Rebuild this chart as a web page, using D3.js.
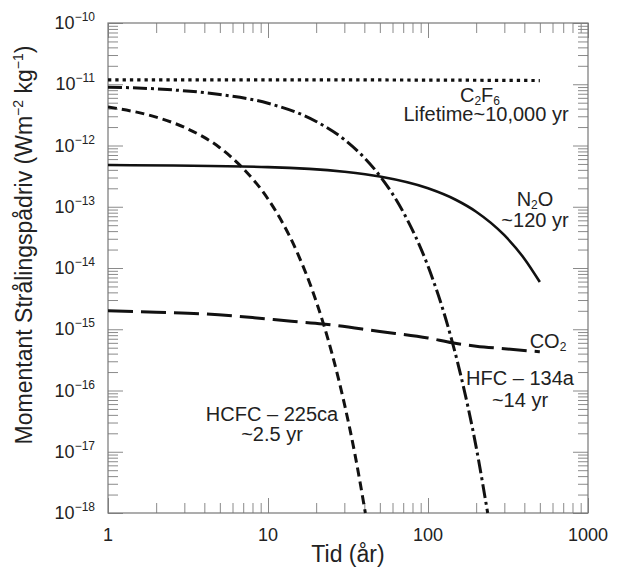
<!DOCTYPE html>
<html>
<head>
<meta charset="utf-8">
<script src="https://cdn.jsdelivr.net/npm/d3@7"></script>
<style>
  body { margin: 0; background: #fff; }
  text { font-family: "Liberation Sans", Arial, Helvetica, sans-serif; fill: #222; }
</style>
</head>
<body>
<svg id="chart" width="618" height="568"></svg>
<script>
// values: years, and forcing in W m-2 kg-1
var xTickLabels = [1, 10, 100, 1000];
var yExponents = [-10, -11, -12, -13, -14, -15, -16, -17, -18];

var c2f6Years = [1, 10, 100, 500];
var c2f6Values = [1.18e-11, 1.18e-11, 1.17e-11, 1.15e-11];

var hfcYears = [1, 2, 5, 10, 20, 30, 40, 50, 70, 100, 130, 160, 200, 236];
var hfcValues = [8.97e-12, 8.4e-12, 6.8e-12, 4.9e-12, 2.47e-12, 1.25e-12, 6.3e-13, 3.2e-13, 8.2e-14, 1.07e-14, 1.39e-15, 1.8e-16, 1.19e-17, 1.0e-18];

var hcfcYears = [1, 2, 3, 5, 7, 10, 15, 20, 25, 30, 35, 40.6];
var hcfcValues = [4.27e-12, 2.9e-12, 1.98e-12, 9.2e-13, 4.2e-13, 1.34e-13, 1.96e-14, 2.86e-15, 4.2e-16, 6.1e-17, 8.9e-18, 1.0e-18];

var n2oYears = [1, 10, 30, 50, 100, 150, 200, 300, 400, 500];
var n2oValues = [4.8e-13, 4.44e-13, 3.72e-13, 3.11e-13, 2.0e-13, 1.29e-13, 8.3e-14, 3.43e-14, 1.42e-14, 5.9e-15];

var co2Years = [1, 2, 4, 8, 14, 22, 50, 100, 142, 200, 300, 500];
var co2Values = [2.0e-15, 1.9e-15, 1.78e-15, 1.55e-15, 1.35e-15, 1.22e-15, 9.2e-16, 7.2e-16, 6.0e-16, 5.3e-16, 4.8e-16, 4.3e-16];

var svg = d3.select("#chart");
var pl = 108, pr = 588, pt = 23, pb = 513;

var x = d3.scaleLog().domain([1, 1000]).range([pl, pr]);
var y = d3.scaleLog().domain([1e-18, 1e-10]).range([pb, pt]);

function zip(a, b) { return a.map(function(v, i) { return [v, b[i]]; }); }

var series = [
  { pts: zip(c2f6Years, c2f6Values), dash: "3.3 4", w: 3.2 },
  { pts: zip(hfcYears, hfcValues), dash: "14 4 3 4", w: 3 },
  { pts: zip(hcfcYears, hcfcValues), dash: "9 5", w: 3 },
  { pts: zip(n2oYears, n2oValues), dash: null, w: 2.6 },
  { pts: zip(co2Years, co2Values), dash: "25 8", w: 3 }
];

// ticks, all pointing inward
var tickColor = "#8a8a8a";
var xMinor = x.ticks().filter(function(d) { return xTickLabels.indexOf(d) < 0; });
var yAll = y.ticks();
var yMajor = yExponents.map(function(e) { return Math.pow(10, e); });
var yMinor = yAll.filter(function(d) {
  return !yMajor.some(function(m) { return Math.abs(d / m - 1) < 1e-6; });
});

function addAxis(gen, tx, ty, vals, size) {
  var g = svg.append("g")
    .attr("transform", "translate(" + tx + "," + ty + ")")
    .call(gen.tickValues(vals).tickSize(-size).tickFormat(""));
  g.select(".domain").remove();
  g.selectAll("line").attr("stroke", tickColor).attr("stroke-width", 1);
}
addAxis(d3.axisBottom(x), 0, pb, xMinor, 10);
addAxis(d3.axisBottom(x), 0, pb, xTickLabels, 15);
addAxis(d3.axisTop(x), 0, pt, xMinor, 10);
addAxis(d3.axisTop(x), 0, pt, xTickLabels, 15);
addAxis(d3.axisLeft(y), pl, 0, yMinor, 10);
addAxis(d3.axisLeft(y), pl, 0, yMajor, 15);
addAxis(d3.axisRight(y), pr, 0, yMinor, 10);
addAxis(d3.axisRight(y), pr, 0, yMajor, 15);

svg.append("rect")
  .attr("x", pl).attr("y", pt)
  .attr("width", pr - pl).attr("height", pb - pt)
  .attr("fill", "none").attr("stroke", "#777").attr("stroke-width", 1.2);

svg.append("clipPath").attr("id", "clip")
  .append("rect").attr("x", pl).attr("y", pt)
  .attr("width", pr - pl).attr("height", pb - pt + 2);

var line = d3.line()
  .x(function(d) { return x(d[0]); })
  .y(function(d) { return y(d[1]); })
  .curve(d3.curveMonotoneX);

svg.append("g").attr("clip-path", "url(#clip)")
  .selectAll("path")
  .data(series)
  .enter().append("path")
  .attr("d", function(d) { return line(d.pts); })
  .attr("fill", "none")
  .attr("stroke", "#111")
  .attr("stroke-width", function(d) { return d.w; })
  .attr("stroke-dasharray", function(d) { return d.dash; });

// tick labels
svg.append("g").selectAll("text")
  .data(xTickLabels)
  .enter().append("text")
  .attr("x", function(d) { return x(d); })
  .attr("y", 541)
  .attr("text-anchor", "middle")
  .style("font-size", "18px")
  .text(function(d) { return d; });

var yl = svg.append("g").selectAll("text")
  .data(yExponents)
  .enter().append("text")
  .attr("x", 95)
  .attr("y", function(d) { return y(Math.pow(10, d)) + 6; })
  .attr("text-anchor", "end")
  .style("font-size", "18px");
yl.append("tspan").text("10");
yl.append("tspan").attr("dy", -8).style("font-size", "12px")
  .text(function(d) { return "\u2212" + (-d); });

// axis titles
svg.append("text")
  .attr("x", (pl + pr) / 2).attr("y", 562)
  .attr("text-anchor", "middle")
  .style("font-size", "23px")
  .text("Tid (år)");

var yt = svg.append("text")
  .attr("transform", "translate(32,245) rotate(-90)")
  .attr("text-anchor", "middle")
  .style("font-size", "23px");
yt.append("tspan").text("Momentant Strålingspådriv (Wm");
yt.append("tspan").attr("dy", -9).style("font-size", "14px").text("\u22122");
yt.append("tspan").attr("dy", 9).text(" kg");
yt.append("tspan").attr("dy", -9).style("font-size", "14px").text("\u22121");
yt.append("tspan").attr("dy", 9).text(")");

// curve annotations: parts are [text, shift] where shift is a subscript offset
function label(cx, by, parts, anchor) {
  var t = svg.append("text")
    .attr("x", cx).attr("y", by)
    .attr("text-anchor", anchor || "middle")
    .style("font-size", "20px");
  var cur = 0;
  parts.forEach(function(p) {
    var s = t.append("tspan").text(p[0]).attr("dy", p[1] - cur);
    if (p[1] !== 0) s.style("font-size", "12px");
    cur = p[1];
  });
}
label(480, 102, [["C", 0], ["2", 3], ["F", 0], ["6", 3]]);
label(486, 121, [["Lifetime~10,000 yr", 0]]);
label(535, 206, [["N", 0], ["2", 3], ["O", 0]]);
label(535, 227, [["~120 yr", 0]]);
label(548, 348, [["CO", 0], ["2", 3]]);
label(520, 385, [["HFC \u2013 134a", 0]]);
label(520, 407, [["~14 yr", 0]]);
label(272, 421, [["HCFC \u2013 225ca", 0]]);
label(272, 441, [["~2.5 yr", 0]]);
</script>
</body>
</html>
